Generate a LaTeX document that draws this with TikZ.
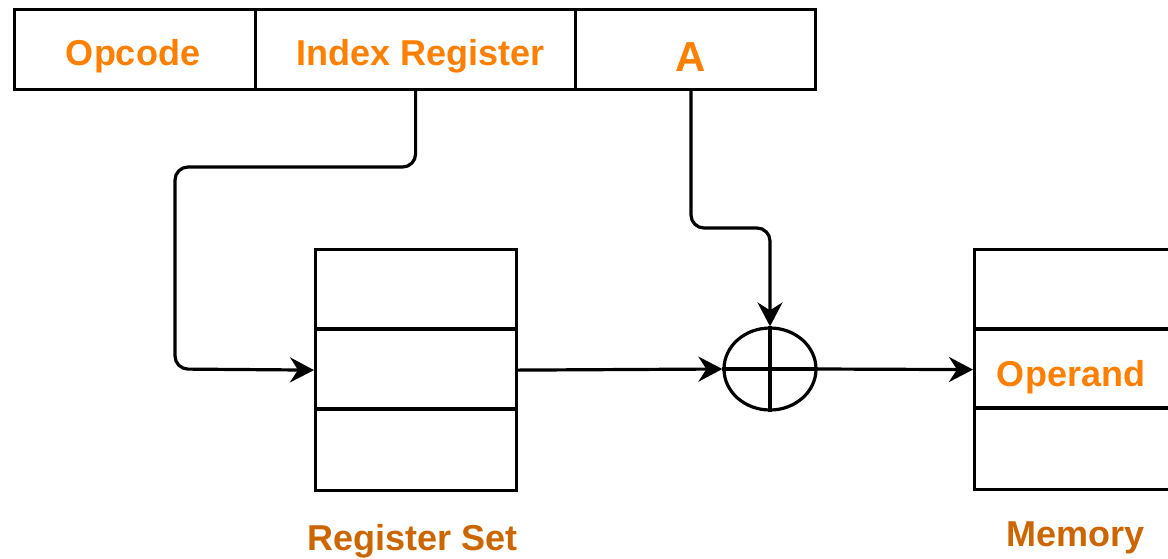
\documentclass[tikz,border=0pt]{standalone}
\usepackage{fontspec}
\setmainfont{Liberation Sans}
\usetikzlibrary{arrows.meta,shapes.geometric}
\definecolor{lblorange}{HTML}{FF8000}
\definecolor{caporange}{HTML}{CC6600}
\tikzset{
  stroke/.style={line width=3.2pt, draw=black},
  field/.style={stroke, minimum height=80pt, inner sep=0pt},
  fieldtext/.style={font=\fontsize{36}{40}\selectfont\bfseries, text=lblorange, inner sep=0pt, anchor=base},
  caption/.style={font=\fontsize{36}{40}\selectfont\bfseries, text=caporange, inner sep=0pt, anchor=base},
  arr/.style={line width=3.2pt, -{Stealth[length=24pt, width=25pt, inset=8pt]}},
}
\begin{document}
\begin{tikzpicture}[x=1pt,y=-1pt]
\clip (0,0) rectangle (1168,558);
\fill[white] (0,0) rectangle (1168,558);
% instruction fields
\node[field, minimum width=241pt, anchor=north west] (opcode) at (13,8) {};
\node[field, minimum width=320pt, anchor=north west] (index) at (254,8) {};
\node[field, minimum width=240pt, anchor=north west] (addr) at (574,8) {};
\node[fieldtext] (opcodetxt) at (133,65) {Opcode};
\node[fieldtext] (indextxt) at (421,65) {Index Register};
\node[fieldtext, font=\fontsize{42}{46}\selectfont\bfseries] (addrtxt) at (691,71) {A};
\coordinate (addrout) at (691,88);
% register set
\node[stroke, minimum width=201pt, minimum height=241pt, inner sep=0pt, anchor=north west] (reg) at (314,248) {};
\draw[stroke] (reg.west |- 0,329) -- (reg.east |- 0,329);
\draw[stroke] (reg.west |- 0,409) -- (reg.east |- 0,409);
\node[caption] (regcap) at (413,550) {Register Set};
% adder
\node[stroke, ellipse, minimum width=92pt, minimum height=82pt, inner sep=0pt] (sum) at (770,369) {};
\draw[stroke] (sum.north) -- (sum.south);
\draw[stroke] (sum.west) -- (sum.east);
% memory
\node[stroke, minimum width=260pt, minimum height=240pt, inner sep=0pt, anchor=north west] (mem) at (973,248) {};
\draw[stroke] (mem.west |- 0,329) -- (1180,329);
\draw[stroke] (mem.west |- 0,408) -- (1180,408);
\node[fieldtext] (operand) at (1071,386) {Operand};
\node[caption] (memcap) at (1076,546) {Memory};
% connectors
\draw[arr, rounded corners=13pt] (index.south) -- (index.south |- 0,167) -- (175,167) -- (175,369) -- (reg.west);
\draw[arr, rounded corners=13pt] (addrout) -- (addrout |- 0,228) -- (sum.north |- 0,228) -- (sum.north);
\draw[arr] (reg.east) -- (sum.west);
\draw[arr] (sum.east) -- (mem.west);
\end{tikzpicture}
\end{document}
